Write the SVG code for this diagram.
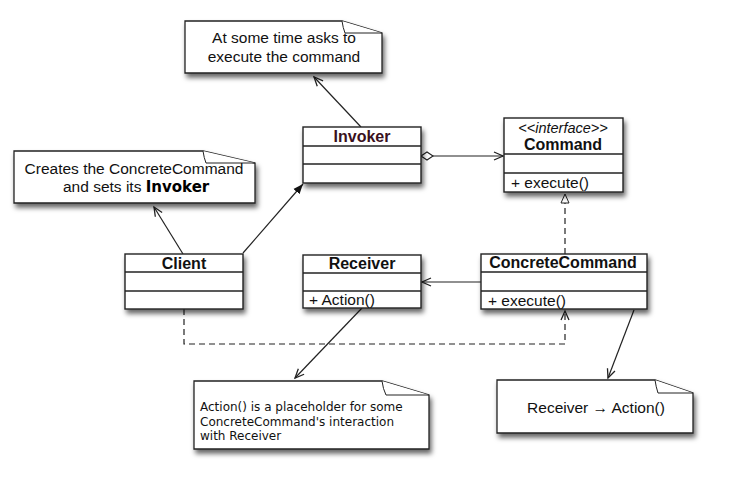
<svg xmlns="http://www.w3.org/2000/svg" width="742" height="485" viewBox="0 0 742 485">
<style>
  .box{fill:#fff;stroke:#222;stroke-width:1.4}
  .div{stroke:#222;stroke-width:1.3}
  .note{fill:#fff;stroke:#222;stroke-width:1.3}
  .fold{fill:#fff;stroke:#222;stroke-width:1}
  .t{font-family:"Liberation Sans",Arial,sans-serif;font-size:15.5px;fill:#111}
  .b{font-family:"Liberation Sans",Arial,sans-serif;font-size:16px;font-weight:bold;fill:#111;text-anchor:middle}
  .n3{font-family:"DejaVu Sans",sans-serif;font-size:12px;fill:#111}
  .ln{stroke:#222;stroke-width:1.2;fill:none}
  .dash{stroke:#222;stroke-width:1.2;fill:none;stroke-dasharray:6,4}
</style>
<defs>
  <filter id="sh" x="-10%" y="-20%" width="125%" height="160%">
    <feDropShadow dx="2" dy="4" stdDeviation="2.5" flood-color="#000" flood-opacity="0.6"/>
  </filter>
  <marker id="open" markerWidth="12" markerHeight="12" refX="10" refY="5" orient="auto" markerUnits="userSpaceOnUse">
    <path d="M1,1 L10,5 L1,9" fill="none" stroke="#222" stroke-width="1.3"/>
  </marker>
  <marker id="filled" markerWidth="12" markerHeight="12" refX="10" refY="5" orient="auto" markerUnits="userSpaceOnUse">
    <path d="M0,1 L10,5 L0,9 Z" fill="#111"/>
  </marker>
  <marker id="tri" markerWidth="12" markerHeight="12" refX="10" refY="5" orient="auto" markerUnits="userSpaceOnUse">
    <path d="M1,1 L10,5 L1,9 Z" fill="#fff" stroke="#222" stroke-width="1"/>
  </marker>
  <marker id="diamond" markerWidth="16" markerHeight="10" refX="1" refY="5" orient="auto" markerUnits="userSpaceOnUse">
    <path d="M1,5 L7,1 L13,5 L7,9 Z" fill="#fff" stroke="#222" stroke-width="1.1"/>
  </marker>
</defs>

<g id="connectors">
  <line class="ln" x1="361" y1="127" x2="314" y2="77" marker-end="url(#open)"/>
  <line class="ln" x1="183" y1="254" x2="154" y2="207" marker-end="url(#open)"/>
  <line class="ln" x1="243" y1="253" x2="303" y2="184" marker-end="url(#filled)"/>
  <line class="ln" x1="421" y1="156" x2="503" y2="156" marker-start="url(#diamond)" marker-end="url(#open)"/>
  <line class="dash" x1="565" y1="254" x2="565" y2="194" marker-end="url(#tri)"/>
  <line class="ln" x1="481" y1="282" x2="422" y2="282" marker-end="url(#open)"/>
  <polyline class="dash" points="184,309 184,344 565,344 565,311" marker-end="url(#open)"/>
  <line class="ln" x1="362" y1="308" x2="295" y2="378" marker-end="url(#open)"/>
  <line class="ln" x1="634" y1="310" x2="608" y2="378" marker-end="url(#open)"/>
</g>

<g id="note-invoker">
  <g filter="url(#sh)"><path class="note" d="M185,21 L342,21 L382,33 L382,73 L185,73 Z"/></g>
  <path class="fold" d="M342,21 Q343,28 345,33 L382,33"/>
  <text class="t" x="284" y="43" text-anchor="middle">At some time asks to</text>
  <text class="t" x="284" y="62" text-anchor="middle">execute the command</text>
</g>

<g id="note-client">
  <g filter="url(#sh)"><path class="note" d="M14,151 L203,151 L255,163 L255,203 L14,203 Z"/></g>
  <path class="fold" d="M203,151 Q204,158 206,163 L255,163"/>
  <text class="t" x="134" y="174" text-anchor="middle">Creates the ConcreteCommand</text>
  <text class="t" x="63" y="192">and sets its <tspan style="font-family:'DejaVu Sans',sans-serif;font-weight:bold;font-size:15px;fill:#000">Invoker</tspan></text>
</g>

<g id="invoker">
  <g filter="url(#sh)"><rect class="box" x="303" y="127" width="118" height="56"/></g>
  <line class="div" x1="303" y1="146" x2="421" y2="146"/>
  <line class="div" x1="303" y1="164" x2="421" y2="164"/>
  <text class="b" x="362" y="142" style="fill:#3a1020">Invoker</text>
</g>

<g id="command">
  <g filter="url(#sh)"><rect class="box" x="504" y="118" width="119" height="74"/></g>
  <line class="div" x1="504" y1="154" x2="623" y2="154"/>
  <line class="div" x1="504" y1="173" x2="623" y2="173"/>
  <text class="t" x="563" y="133" text-anchor="middle" style="font-style:italic;font-size:14.5px">&lt;&lt;interface&gt;&gt;</text>
  <text class="b" x="563" y="150">Command</text>
  <text class="t" x="511" y="188">+ execute()</text>
</g>

<g id="client">
  <g filter="url(#sh)"><rect class="box" x="125" y="254" width="118" height="55"/></g>
  <line class="div" x1="125" y1="272" x2="243" y2="272"/>
  <line class="div" x1="125" y1="291" x2="243" y2="291"/>
  <text class="b" x="184" y="269">Client</text>
</g>

<g id="receiver">
  <g filter="url(#sh)"><rect class="box" x="303" y="255" width="118" height="53"/></g>
  <line class="div" x1="303" y1="273" x2="421" y2="273"/>
  <line class="div" x1="303" y1="291" x2="421" y2="291"/>
  <text class="b" x="362" y="269">Receiver</text>
  <text class="t" x="309" y="305">+ Action()</text>
</g>

<g id="concretecommand">
  <g filter="url(#sh)"><rect class="box" x="481" y="254" width="166" height="55"/></g>
  <line class="div" x1="481" y1="272" x2="647" y2="272"/>
  <line class="div" x1="481" y1="291" x2="647" y2="291"/>
  <text class="b" x="563" y="268">ConcreteCommand</text>
  <text class="t" x="488" y="306">+ execute()</text>
</g>

<g id="note-receiver">
  <g filter="url(#sh)"><path class="note" d="M194,381 L382,381 L429,395 L429,449 L194,449 Z"/></g>
  <path class="fold" d="M382,381 Q383,389 386,395 L429,395"/>
  <text class="n3" x="200" y="411">Action() is a placeholder for some</text>
  <text class="n3" x="200" y="426">ConcreteCommand's interaction</text>
  <text class="n3" x="200" y="440">with Receiver</text>
</g>

<g id="note-concrete">
  <g filter="url(#sh)"><path class="note" d="M497,380 L655,380 L693,393 L693,433 L497,433 Z"/></g>
  <path class="fold" d="M655,380 Q656,387 658,393 L693,393"/>
  <text class="t" x="596" y="413" text-anchor="middle">Receiver → Action()</text>
</g>
</svg>
